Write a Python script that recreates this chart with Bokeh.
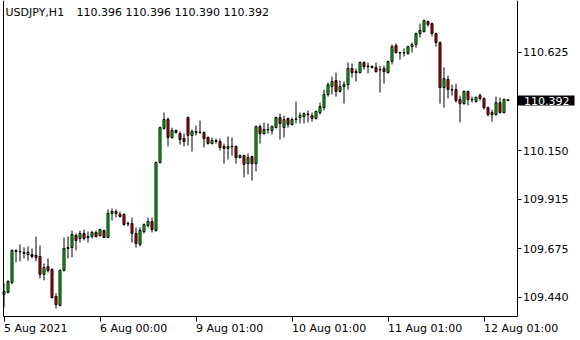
from bokeh.plotting import figure
from bokeh.models import (FixedTicker, Label, Range1d, ColumnDataSource,
                          PrintfTickFormatter, LinearAxis)
from bokeh.embed import file_html
from bokeh.resources import INLINE

# ---- data (USDJPY H1 bars) ----
opens = [109.454, 109.464, 109.512, 109.667, 109.660, 109.657, 109.647, 109.647, 109.643, 109.638,
         109.551, 109.589, 109.575, 109.444, 109.401, 109.570, 109.676, 109.681, 109.739, 109.725,
         109.749, 109.734, 109.734, 109.754, 109.739, 109.763, 109.729, 109.846, 109.855, 109.841,
         109.841, 109.797, 109.797, 109.749, 109.696, 109.758, 109.787, 109.807, 109.763, 110.092,
         110.257, 110.300, 110.213, 110.247, 110.232, 110.208, 110.310, 110.223, 110.242, 110.237,
         110.237, 110.213, 110.184, 110.199, 110.194, 110.170, 110.160, 110.170, 110.170, 110.116,
         110.126, 110.087, 110.121, 110.087, 110.266, 110.232, 110.252, 110.247, 110.261, 110.310,
         110.261, 110.305, 110.276, 110.300, 110.310, 110.315, 110.327, 110.319, 110.305, 110.334,
         110.358, 110.421, 110.460, 110.489, 110.436, 110.460, 110.469, 110.547, 110.532, 110.527,
         110.576, 110.556, 110.558, 110.552, 110.542, 110.547, 110.527, 110.581, 110.658, 110.624,
         110.622, 110.619, 110.653, 110.663, 110.716, 110.726, 110.774, 110.764, 110.716, 110.673,
         110.455, 110.494, 110.445, 110.445, 110.397, 110.377, 110.436, 110.397, 110.387, 110.416,
         110.402, 110.358, 110.334, 110.324, 110.382, 110.334, 110.396]
highs = [109.507, 109.522, 109.671, 109.671, 109.696, 109.681, 109.686, 109.676, 109.734, 109.691,
         109.604, 109.628, 109.580, 109.459, 109.575, 109.729, 109.734, 109.763, 109.749, 109.763,
         109.768, 109.758, 109.763, 109.763, 109.773, 109.768, 109.865, 109.870, 109.865, 109.855,
         109.846, 109.807, 109.826, 109.778, 109.778, 109.797, 109.826, 109.826, 110.097, 110.266,
         110.334, 110.310, 110.261, 110.252, 110.242, 110.232, 110.315, 110.252, 110.271, 110.295,
         110.242, 110.218, 110.213, 110.208, 110.208, 110.184, 110.218, 110.213, 110.174, 110.131,
         110.131, 110.136, 110.126, 110.271, 110.276, 110.286, 110.281, 110.271, 110.315, 110.329,
         110.319, 110.310, 110.310, 110.387, 110.334, 110.334, 110.344, 110.334, 110.344, 110.382,
         110.445, 110.479, 110.508, 110.527, 110.489, 110.484, 110.576, 110.571, 110.547, 110.581,
         110.581, 110.576, 110.561, 110.576, 110.561, 110.561, 110.586, 110.663, 110.668, 110.629,
         110.644, 110.658, 110.673, 110.721, 110.764, 110.784, 110.779, 110.769, 110.721, 110.678,
         110.552, 110.513, 110.469, 110.474, 110.416, 110.440, 110.440, 110.411, 110.411, 110.426,
         110.407, 110.363, 110.348, 110.411, 110.407, 110.402, 110.396]
lows = [109.391, 109.459, 109.502, 109.609, 109.614, 109.628, 109.618, 109.628, 109.614, 109.531,
        109.522, 109.560, 109.434, 109.386, 109.396, 109.565, 109.628, 109.633, 109.667, 109.705,
        109.715, 109.705, 109.725, 109.729, 109.734, 109.729, 109.729, 109.812, 109.826, 109.826,
        109.787, 109.783, 109.705, 109.681, 109.686, 109.749, 109.778, 109.754, 109.758, 110.087,
        110.252, 110.170, 110.208, 110.232, 110.179, 110.170, 110.174, 110.145, 110.223, 110.232,
        110.165, 110.179, 110.179, 110.184, 110.150, 110.087, 110.107, 110.126, 110.087, 110.112,
        110.020, 110.034, 110.005, 110.049, 110.184, 110.228, 110.232, 110.228, 110.257, 110.203,
        110.213, 110.261, 110.271, 110.281, 110.281, 110.281, 110.286, 110.290, 110.300, 110.324,
        110.344, 110.411, 110.421, 110.411, 110.431, 110.377, 110.445, 110.503, 110.484, 110.523,
        110.542, 110.523, 110.547, 110.527, 110.431, 110.474, 110.523, 110.566, 110.619, 110.590,
        110.605, 110.614, 110.624, 110.648, 110.697, 110.721, 110.750, 110.702, 110.653, 110.377,
        110.358, 110.402, 110.416, 110.382, 110.286, 110.372, 110.368, 110.382, 110.382, 110.392,
        110.348, 110.315, 110.290, 110.319, 110.329, 110.329, 110.390]
closes = [109.468, 109.517, 109.667, 109.662, 109.662, 109.652, 109.657, 109.638, 109.633, 109.551,
          109.584, 109.570, 109.439, 109.405, 109.570, 109.676, 109.681, 109.744, 109.715, 109.749,
          109.725, 109.729, 109.754, 109.734, 109.768, 109.729, 109.846, 109.855, 109.846, 109.831,
          109.792, 109.795, 109.749, 109.700, 109.763, 109.792, 109.807, 109.768, 110.092, 110.261,
          110.300, 110.213, 110.247, 110.237, 110.203, 110.194, 110.223, 110.242, 110.237, 110.239,
          110.208, 110.184, 110.199, 110.194, 110.165, 110.160, 110.170, 110.168, 110.116, 110.126,
          110.083, 110.116, 110.087, 110.266, 110.232, 110.252, 110.250, 110.266, 110.310, 110.281,
          110.300, 110.276, 110.300, 110.302, 110.319, 110.329, 110.324, 110.305, 110.339, 110.363,
          110.421, 110.469, 110.484, 110.436, 110.460, 110.469, 110.547, 110.527, 110.527, 110.576,
          110.556, 110.558, 110.552, 110.532, 110.540, 110.532, 110.581, 110.653, 110.624, 110.622,
          110.624, 110.653, 110.663, 110.716, 110.731, 110.779, 110.760, 110.716, 110.673, 110.455,
          110.498, 110.445, 110.443, 110.392, 110.377, 110.436, 110.397, 110.395, 110.407, 110.402,
          110.358, 110.324, 110.324, 110.382, 110.334, 110.397, 110.392]

x_tick_bars = [0, 24, 48, 72, 96, 120]
x_tick_labels = ["5 Aug 2021", "6 Aug 00:00", "9 Aug 01:00", "10 Aug 01:00", "11 Aug 01:00", "12 Aug 01:00"]
y_ticks = [109.440, 109.675, 109.915, 110.150, 110.625]
last_price = 110.392
header_symbol = "USDJPY,H1"
header_ohlc = "110.396 110.396 110.390 110.392"

# ---- styling / geometry ----
FONT = "DejaVu Sans"
FSIZE = "11px"
BULL = "#00ff00"
BEAR = "#ff0000"
W, H = 580, 340
BAR_PX = 4.0            # pixels per bar
BAR0_PX = 3.5           # pixel centre of bar 0
PX_PER_PRICE = 206.7
PRICE_AT_TOP = 110.876
PLOT_LEFT_PX, PLOT_RIGHT_PX, PLOT_BOTTOM_PX = 2.5, 516.5, 315.5

def bar_at(px):
    return (px - BAR0_PX) / BAR_PX

def price_at(py):
    return PRICE_AT_TOP - py / PX_PER_PRICE

X_LEFT, X_RIGHT = bar_at(PLOT_LEFT_PX), bar_at(PLOT_RIGHT_PX)
Y_BOTTOM, Y_TOP = price_at(PLOT_BOTTOM_PX), PRICE_AT_TOP

n = len(opens)
idx = list(range(n))
bull = [i for i in idx if closes[i] >= opens[i]]
bear = [i for i in idx if closes[i] < opens[i]]

src_all = ColumnDataSource(dict(x=idx, h=highs, l=lows))
src_bull = ColumnDataSource(dict(x=bull, o=[opens[i] for i in bull], c=[closes[i] for i in bull]))
src_bear = ColumnDataSource(dict(x=bear, o=[opens[i] for i in bear], c=[closes[i] for i in bear]))

p = figure(width=W, height=H, output_backend="svg", toolbar_location=None,
           x_range=Range1d(bar_at(0), bar_at(W)), y_range=Range1d(price_at(H), price_at(0)),
           x_axis_location=None, y_axis_location=None, title=None, min_border=0)
p.background_fill_color = "white"
p.border_fill_color = "white"
p.outline_line_color = None
p.xgrid.visible = False
p.ygrid.visible = False

p.segment(x0="x", y0="l", x1="x", y1="h", source=src_all, line_color="black", line_width=1)
p.vbar(x="x", width=0.5, top="c", bottom="o", source=src_bull,
       fill_color=BULL, line_color="black", line_width=1)
p.vbar(x="x", width=0.5, top="o", bottom="c", source=src_bear,
       fill_color=BEAR, line_color="black", line_width=1)

# right price axis along the chart's right edge
ya = LinearAxis(fixed_location=X_RIGHT, bounds=(Y_BOTTOM, Y_TOP),
                ticker=FixedTicker(ticks=y_ticks + [last_price]),
                formatter=PrintfTickFormatter(format="%.3f"))
ya.axis_line_color = "black"
ya.major_tick_line_color = "black"
ya.major_tick_out = 4
ya.major_tick_in = 0
ya.minor_tick_line_color = None
ya.major_label_standoff = 2
ya.major_label_text_font = FONT
ya.major_label_text_font_size = FSIZE
ya.major_label_text_color = "black"
p.add_layout(ya, "right")

# bottom time axis (tick marks; labels drawn left-aligned below)
xa = LinearAxis(fixed_location=Y_BOTTOM, bounds=(X_LEFT, X_RIGHT),
                ticker=FixedTicker(ticks=x_tick_bars))
xa.axis_line_color = "black"
xa.major_tick_line_color = "black"
xa.major_tick_out = 5
xa.major_tick_in = 0
xa.minor_tick_line_color = None
xa.major_label_text_color = None
p.add_layout(xa, "below")

# left edge of the chart frame
la = LinearAxis(fixed_location=X_LEFT, bounds=(Y_BOTTOM, Y_TOP), ticker=FixedTicker(ticks=[]))
la.axis_line_color = "black"
la.major_tick_line_color = None
la.minor_tick_line_color = None
la.major_label_text_color = None
p.add_layout(la, "left")

for b, t in zip(x_tick_bars, x_tick_labels):
    p.add_layout(Label(x=b, y=Y_BOTTOM, x_offset=0, y_offset=-6, text=t,
                       text_align="left", text_baseline="top",
                       text_font=FONT, text_font_size=FSIZE, text_color="black"))

# header
p.add_layout(Label(x=5, y=H - 12, x_units="screen", y_units="screen", text=header_symbol,
                   text_align="left", text_baseline="middle",
                   text_font=FONT, text_font_size=FSIZE, text_color="black"))
p.add_layout(Label(x=76, y=H - 12, x_units="screen", y_units="screen", text=header_ohlc,
                   text_align="left", text_baseline="middle",
                   text_font=FONT, text_font_size=FSIZE, text_color="black"))

# current price tag
tag = Label(x=X_RIGHT, y=last_price, x_offset=1, text="%.3f" % last_price,
            text_align="left", text_baseline="middle",
            text_font=FONT, text_font_size=FSIZE, text_color="white",
            background_fill_color="black")
try:
    tag.padding = dict(left=6, right=5, top=1, bottom=1)
except Exception:
    tag.padding = (1, 5, 1, 6)
p.add_layout(tag)

open("out.html", "w").write(file_html(p, INLINE))
